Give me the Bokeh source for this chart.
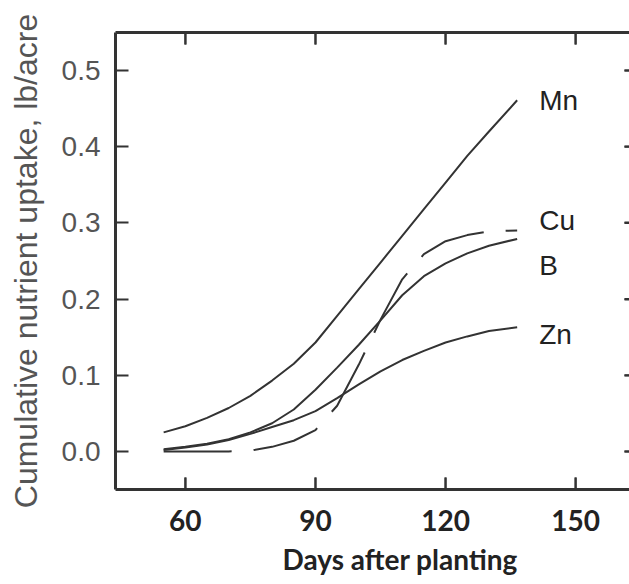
from bokeh.plotting import figure
from bokeh.models import (Range1d, FixedTicker, LinearAxis, NumeralTickFormatter,
                          ColumnDataSource, Title, CustomJSTickFormatter)
from bokeh.core.properties import value
from bokeh.embed import file_html
from bokeh.resources import INLINE

# ---- data ----
days = [55, 60, 65, 70, 75, 80, 85, 90, 95, 100, 105, 110, 115, 120, 125, 130, 136.5]
mn = [0.025, 0.033, 0.044, 0.057, 0.073, 0.093, 0.115, 0.143, 0.178, 0.213, 0.248,
      0.283, 0.318, 0.353, 0.388, 0.420, 0.461]
cu = [0.000, 0.000, 0.000, 0.000, 0.001, 0.006, 0.014, 0.028, 0.060, 0.114, 0.173,
      0.226, 0.259, 0.276, 0.284, 0.289, 0.290]
b = [0.003, 0.006, 0.010, 0.016, 0.025, 0.037, 0.055, 0.081, 0.110, 0.140, 0.172,
     0.205, 0.230, 0.247, 0.260, 0.270, 0.279]
zn = [0.002, 0.005, 0.009, 0.015, 0.023, 0.032, 0.041, 0.053, 0.070, 0.088, 0.105,
      0.120, 0.132, 0.143, 0.151, 0.158, 0.163]
series_names = ["Mn", "Cu", "B", "Zn"]
x_ticks = [60, 90, 120, 150]
y_ticks = [0.0, 0.1, 0.2, 0.3, 0.4, 0.5]
x_title = "Days after planting"
y_title = "Cumulative nutrient uptake, lb/acre"

INK = "#333333"
X0, X1 = 43.9, 162.4
Y0, Y1 = -0.05, 0.55
W, H = 629, 584
BL, BT, BB = 115, 32, 95
FRAME_W, FRAME_H = W - BL, H - BT - BB
PX_X = (X1 - X0) / FRAME_W   # data units per pixel
PX_Y = (Y1 - Y0) / FRAME_H

p = figure(width=W, height=H, output_backend="svg", toolbar_location=None,
           x_range=Range1d(X0, X1), y_range=Range1d(Y0, Y1),
           min_border_left=BL, min_border_top=BT, min_border_bottom=BB,
           min_border_right=0, x_axis_location=None, y_axis_location=None)
p.outline_line_color = None
p.xgrid.visible = False
p.ygrid.visible = False
p.background_fill_color = "white"
p.border_fill_color = "white"


def style_ticks(ax, tick_in):
    ax.major_tick_in = tick_in
    ax.major_tick_out = 0
    ax.minor_tick_in = 0
    ax.minor_tick_out = 0
    ax.major_tick_line_width = 2
    ax.major_tick_line_color = INK
    ax.axis_line_width = 3
    ax.axis_line_color = INK


left = LinearAxis(ticker=FixedTicker(ticks=y_ticks), formatter=NumeralTickFormatter(format="0.0"))
left.axis_label = y_title
left.axis_label_text_font = "Liberation Sans"
left.axis_label_text_font_style = "normal"
left.axis_label_text_font_size = "32px"
left.axis_label_text_color = "#555555"
left.axis_label_standoff = 15
left.major_label_text_font = "Liberation Sans"
left.major_label_text_font_size = "28px"
left.major_label_text_color = "#555555"
left.major_label_standoff = 15
style_ticks(left, 13)
p.add_layout(left, "left")

bottom = LinearAxis(ticker=FixedTicker(ticks=x_ticks))
bottom.major_label_text_font = "Lato"
bottom.major_label_text_font_style = "bold"
bottom.major_label_text_font_size = "28px"
bottom.major_label_text_color = "#222222"
bottom.major_label_standoff = 20
style_ticks(bottom, 12)
p.add_layout(bottom, "below")

p.add_layout(Title(text=x_title, align="left", offset=167, standoff=13,
                   text_font="Lato", text_font_style="bold", text_font_size="28px",
                   text_color="#222222"), "below")

blank = CustomJSTickFormatter(code="return ''")
top = LinearAxis(ticker=FixedTicker(ticks=x_ticks), formatter=blank)
top.major_label_standoff = 0
top.major_label_text_font_size = "1px"
style_ticks(top, 12)
p.add_layout(top, "above")

right = LinearAxis(ticker=FixedTicker(ticks=y_ticks), formatter=blank)
right.major_label_standoff = 0
right.major_label_text_font_size = "1px"
style_ticks(right, 5)
right.axis_line_color = None
p.add_layout(right, "right")

# inward tick marks drawn inside the frame as well (top, bottom, right)
n = len(x_ticks)
p.segment(x0=x_ticks, y0=[Y1 - PX_Y] * n, x1=x_ticks, y1=[Y1 - 12 * PX_Y] * n,
          line_color=INK, line_width=2)
p.segment(x0=x_ticks, y0=[Y0 + PX_Y] * n, x1=x_ticks, y1=[Y0 + 12 * PX_Y] * n,
          line_color=INK, line_width=2)
m = len(y_ticks)
p.segment(x0=[X1 - 0.5 * PX_X] * m, y0=y_ticks, x1=[X1 - 5 * PX_X] * m, y1=y_ticks,
          line_color=INK, line_width=2)

p.line(days, mn, line_color=INK, line_width=2)
p.line(days, b, line_color=INK, line_width=2)
p.line(days, zn, line_color=INK, line_width=2)
p.line(days, cu, line_color=INK, line_width=2, line_dash="68 22")

ends = [mn[-1], cu[-1], b[-1], zn[-1]]
label_dy = [0, -10, 27, 7]  # screen offsets (px) of label baselines
src = ColumnDataSource(dict(x=[days[-1]] * 4, y=ends, text=series_names, dy=label_dy))
p.text(x="x", y="y", text="text", source=src, x_offset=22, y_offset="dy",
       text_font=value("Liberation Sans"), text_font_size="28px",
       text_color="#222222", text_baseline="alphabetic", text_align="left")

open("out.html", "w").write(file_html(p, INLINE))
